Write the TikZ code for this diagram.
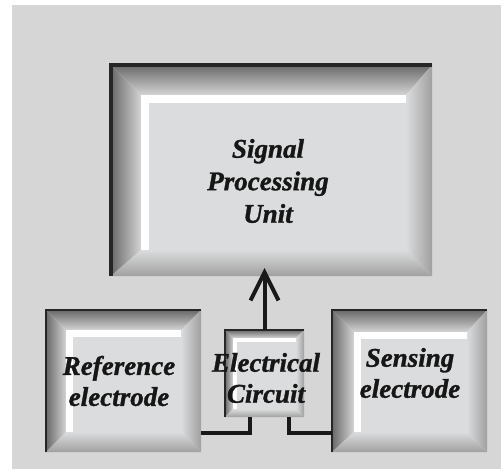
\documentclass[tikz,border=0pt]{standalone}
\usepackage{fontspec}
\newfontfamily\lblfont{Liberation Serif Bold Italic}[FakeBold=1.2]
\usetikzlibrary{calc,arrows.meta}
\definecolor{bggray}{RGB}{214,214,214}
\definecolor{facegray}{RGB}{219,220,221}
\definecolor{bevdark}{RGB}{105,105,105}
\definecolor{bevlight}{RGB}{212,212,212}
\definecolor{bevmid}{RGB}{160,160,160}
\definecolor{txt}{RGB}{22,22,22}
% #1 name, #2 top/left bevel, #3 bottom/right bevel, #4 outline width, #5 highlight width
\newcommand\bevelbox[5]{%
  \fill[facegray] (#1.north west) rectangle (#1.south east);
  \shade[top color=bevdark, bottom color=bevlight]
    (#1.north west) -- (#1.north east) -- ($(#1.north east)+(-#3,#2)$) -- ($(#1.north west)+(#2,#2)$) -- cycle;
  \shade[left color=bevdark, right color=bevlight]
    (#1.north west) -- ($(#1.north west)+(#2,#2)$) -- ($(#1.south west)+(#2,-#3)$) -- (#1.south west) -- cycle;
  \shade[left color=facegray, right color=bevmid]
    (#1.north east) -- (#1.south east) -- ($(#1.south east)+(-#3,-#3)$) -- ($(#1.north east)+(-#3,#2)$) -- cycle;
  \shade[top color=facegray, bottom color=bevmid]
    (#1.south west) -- ($(#1.south west)+(#2,-#3)$) -- ($(#1.south east)+(-#3,-#3)$) -- (#1.south east) -- cycle;
  \draw[white, line width=#5pt]
    ($(#1.south west)+(#2+#5/2,-#3)$) -- ($(#1.north west)+(#2+#5/2,#2+#5/2)$) -- ($(#1.north east)+(-#3,#2+#5/2)$);
  \draw[black!85, line width=#4pt] (#1.south west) -- (#1.north west) -- (#1.north east);
}
\begin{document}
\begin{tikzpicture}[x=1pt,y=-1pt,
  box/.style={rectangle, inner sep=0pt, outer sep=0pt},
  lbl/.style={font=\lblfont\fontsize{27}{31}\selectfont, text=txt, align=center, inner sep=0pt},
  wire/.style={line width=4pt, draw=black!90}]
\useasboundingbox (0,0) rectangle (501,469);
\fill[white] (0,0) rectangle (501,469);
\fill[bggray] (12,5) rectangle (501,469);

\node[box, minimum width=321pt, minimum height=211pt] (spu) at (271.5,170.5) {};
\node[box, minimum width=155pt, minimum height=142pt] (ref) at (123.5,381) {};
\node[box, minimum width=79pt, minimum height=87pt] (ec) at (264.5,373.5) {};
\node[box, minimum width=155pt, minimum height=142pt] (sens) at (409.5,381) {};

\bevelbox{spu}{30}{26}{4}{8}
\bevelbox{ref}{20}{20}{2}{7}
\bevelbox{sens}{22}{20}{2}{7}
\bevelbox{ec}{8}{8}{1.5}{4}

\coordinate (tip) at ($(ec.north |- spu.south)+(0,-8)$);
\draw[wire, -{Straight Barb[length=28pt,width=28pt]}] (ec.north) -- (tip);
\draw[wire] ($(ec.south)+(-14.5,0)$) |- ($(ref.south east)+(0,-19)$);
\draw[wire] ($(ec.south)+(24,0)$) |- ($(sens.south west)+(0,-19)$);

\node[lbl, font=\lblfont\fontsize{27}{32.5}\selectfont] (tspu) at (268,181) {Signal\\Processing\\Unit};
\node[lbl] (tref) at (119,381) {Reference\\electrode};
\node[lbl] (tec) at (266,378) {Electrical\\Circuit};
\node[lbl] (tsens) at (410,373) {Sensing\\electrode};
\end{tikzpicture}
\end{document}
